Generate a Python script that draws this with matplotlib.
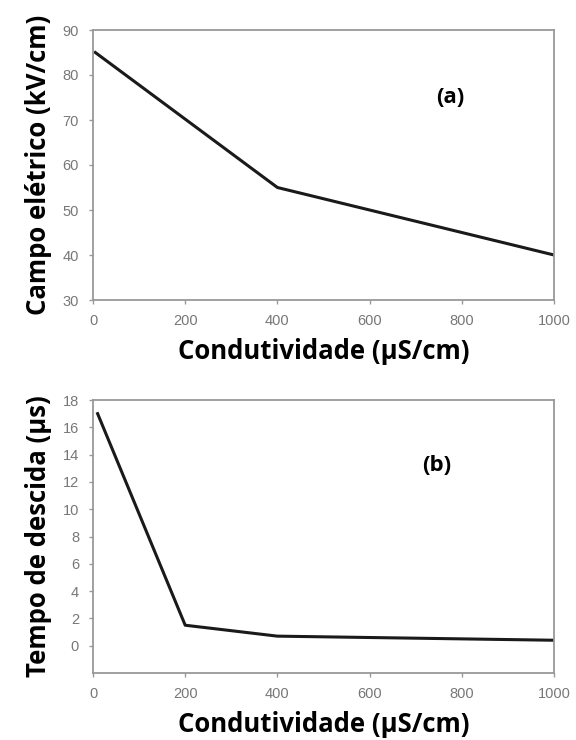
import matplotlib.pyplot as plt

cond_a = [5, 400, 1000]
campo = [85, 55, 40]

cond_b = [10, 200, 400, 1000]
tempo = [17, 1.5, 0.7, 0.4]

xticks = [0, 200, 400, 600, 800, 1000]

fig = plt.figure(figsize=(5.76, 7.4), dpi=100)
W, H = 576, 740
ax1 = fig.add_axes([93 / W, 1 - 300 / H, 461 / W, 270 / H])
ax2 = fig.add_axes([93 / W, 1 - 673 / H, 461 / W, 273 / H])

label_font = dict(family="Open Sans", fontweight="bold", fontsize=18.5)

for ax in (ax1, ax2):
    for s in ax.spines.values():
        s.set_color("#999999")
        s.set_linewidth(1.3)
    ax.tick_params(colors="#999999", labelcolor="#777777", labelsize=10.5,
                   length=3, width=1, pad=7)
    ax.set_xlim(0, 1000)
    ax.set_xticks(xticks)
    ax.set_xlabel("Condutividade (µS/cm)", labelpad=7, **label_font)

ax1.plot(cond_a, campo, color="#1a1a1a", linewidth=2.2)
ax1.set_ylim(30, 90)
ax1.set_yticks(range(30, 91, 10))
ax1.set_ylabel("Campo elétrico (kV/cm)", labelpad=8, **label_font)
ax1.text(0.745, 0.73, "(a)", transform=ax1.transAxes, fontsize=16,
         fontweight="bold", family="Open Sans")

ax2.plot(cond_b, tempo, color="#1a1a1a", linewidth=2.2)
ax2.set_ylim(-2, 18)
ax2.set_yticks(range(0, 19, 2))
ax2.set_ylabel("Tempo de descida (µs)", labelpad=8, **label_font)
ax2.text(0.715, 0.74, "(b)", transform=ax2.transAxes, fontsize=16,
         fontweight="bold", family="Open Sans")

for ax in (ax1, ax2):
    for lab in ax.get_xticklabels() + ax.get_yticklabels():
        lab.set_family("Liberation Sans")

fig.savefig("out.png", dpi=100)
